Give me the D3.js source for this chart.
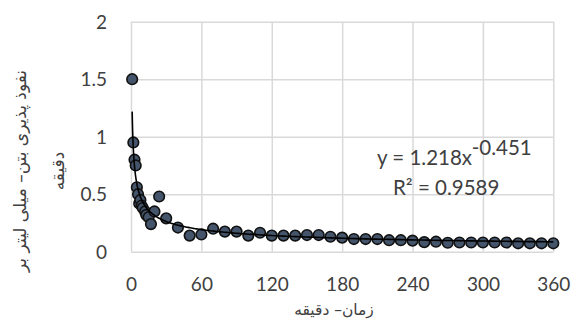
<!DOCTYPE html>
<html>
<head>
<meta charset="utf-8">
<script src="https://cdn.jsdelivr.net/npm/d3@7"></script>
<style>
  html, body { margin: 0; padding: 0; background: #fff; }
  svg { display: block; }
  .tick text { font-family: Lato, "Liberation Sans", sans-serif; font-size: 19px; fill: #404040; }
</style>
</head>
<body>
<div id="chart"></div>
<script>
// Time (minutes) and concrete permeability (ml per minute)
const times = [1, 2, 3, 4, 5, 6, 7, 8, 9, 10, 12, 13, 15, 17, 20, 24, 30,
  40, 50, 60, 70, 80, 90, 100, 110, 120, 130, 140, 150, 160, 170, 180, 190,
  200, 210, 220, 230, 240, 250, 260, 270, 280, 290, 300, 310, 320, 330, 340, 350, 360];
const permeability = [1.5, 0.95, 0.80, 0.75, 0.56, 0.50, 0.42, 0.45, 0.40, 0.38, 0.35, 0.32, 0.30, 0.24, 0.35, 0.48, 0.29,
  0.21, 0.14, 0.15, 0.20, 0.175, 0.175, 0.14, 0.165, 0.14, 0.14, 0.14, 0.145, 0.145, 0.13, 0.122, 0.11,
  0.11, 0.11, 0.10, 0.10, 0.096, 0.083, 0.087, 0.078, 0.08, 0.08, 0.08, 0.08, 0.08, 0.073, 0.073, 0.073, 0.073];

const xTicks = [0, 60, 120, 180, 240, 300, 360];
const yTicks = [0, 0.5, 1, 1.5, 2];

// Power-law trendline y = a·x^b
const fitA = 1.218, fitB = -0.451, fitR2 = 0.9589;

const W = 576, H = 330;
const margin = { left: 131, right: 22.7, top: 21.7, bottom: 78.3 };

const svg = d3.select("#chart").append("svg").attr("width", W).attr("height", H);

const x = d3.scaleLinear().domain([0, 360]).range([margin.left, W - margin.right]);
const y = d3.scaleLinear().domain([0, 2]).range([H - margin.bottom, margin.top]);

const gridColor = "#d9d9d9";

// Vertical gridlines + x tick labels
const xAxis = svg.append("g")
  .attr("transform", `translate(0,${H - margin.bottom})`)
  .call(d3.axisBottom(x).tickValues(xTicks).tickSize(-(H - margin.bottom - margin.top)).tickPadding(24).tickFormat(d3.format("d")));
xAxis.select(".domain").remove();
xAxis.selectAll(".tick line").attr("stroke", gridColor).attr("stroke-width", 1.5);
xAxis.selectAll(".tick text").attr("dy", "0.35em").attr("y", 33);

// Horizontal gridlines + y tick labels
const yAxis = svg.append("g")
  .attr("transform", `translate(${margin.left},0)`)
  .call(d3.axisLeft(y).tickValues(yTicks).tickSize(-(W - margin.right - margin.left)).tickPadding(24).tickFormat(d => String(d)));
yAxis.select(".domain").remove();
yAxis.selectAll(".tick line").attr("stroke", gridColor).attr("stroke-width", 1.5);
yAxis.selectAll(".tick text").attr("dy", "0.35em");

// Trendline over the measured range
const xs = d3.range(0, 301).map(i => times[0] * Math.pow(times[times.length - 1] / times[0], i / 300));
const line = d3.line().x(d => x(d)).y(d => y(fitA * Math.pow(d, fitB)));

// Data points
svg.append("g").selectAll("circle")
  .data(times.map((t, i) => [t, permeability[i]]))
  .join("circle")
  .attr("cx", d => x(d[0]))
  .attr("cy", d => y(d[1]))
  .attr("r", 5.3)
  .attr("fill", "#44546a")
  .attr("stroke", "#111")
  .attr("stroke-width", 1.6);

svg.append("path")
  .datum(xs)
  .attr("d", line)
  .attr("fill", "none")
  .attr("stroke", "#000")
  .attr("stroke-width", 1.6);

// Trendline equation
const eqFont = "Lato, 'Liberation Sans', sans-serif";
const eq = svg.append("text")
  .attr("x", 377).attr("y", 165)
  .attr("font-family", eqFont)
  .attr("font-size", 20.5).attr("fill", "#404040");
eq.append("tspan").text(`y = ${fitA}x`);
eq.append("tspan").attr("dy", -10).text(fitB);

svg.append("text")
  .attr("x", 393).attr("y", 195)
  .attr("font-family", eqFont)
  .attr("font-size", 20.5).attr("fill", "#404040")
  .text(`R² = ${fitR2}`);

// Axis titles
svg.append("text")
  .attr("x", 334).attr("y", 315)
  .attr("text-anchor", "middle")
  .attr("font-family", "'DejaVu Sans', sans-serif")
  .attr("font-size", 15.5).attr("fill", "#404040")
  .attr("direction", "rtl")
  .text("زمان– دقیقه");

const yTitle = svg.append("text")
  .attr("transform", "translate(26,171) rotate(-90)")
  .attr("text-anchor", "middle")
  .attr("font-family", "'DejaVu Sans', sans-serif")
  .attr("font-size", 17).attr("fill", "#404040")
  .attr("direction", "rtl");
yTitle.append("tspan").attr("x", 0).attr("y", 0).text("نفوذ پذیری بتن– میلی لیتر بر");
yTitle.append("tspan").attr("x", 0).attr("y", 38).text("دقیقه");
</script>
</body>
</html>
